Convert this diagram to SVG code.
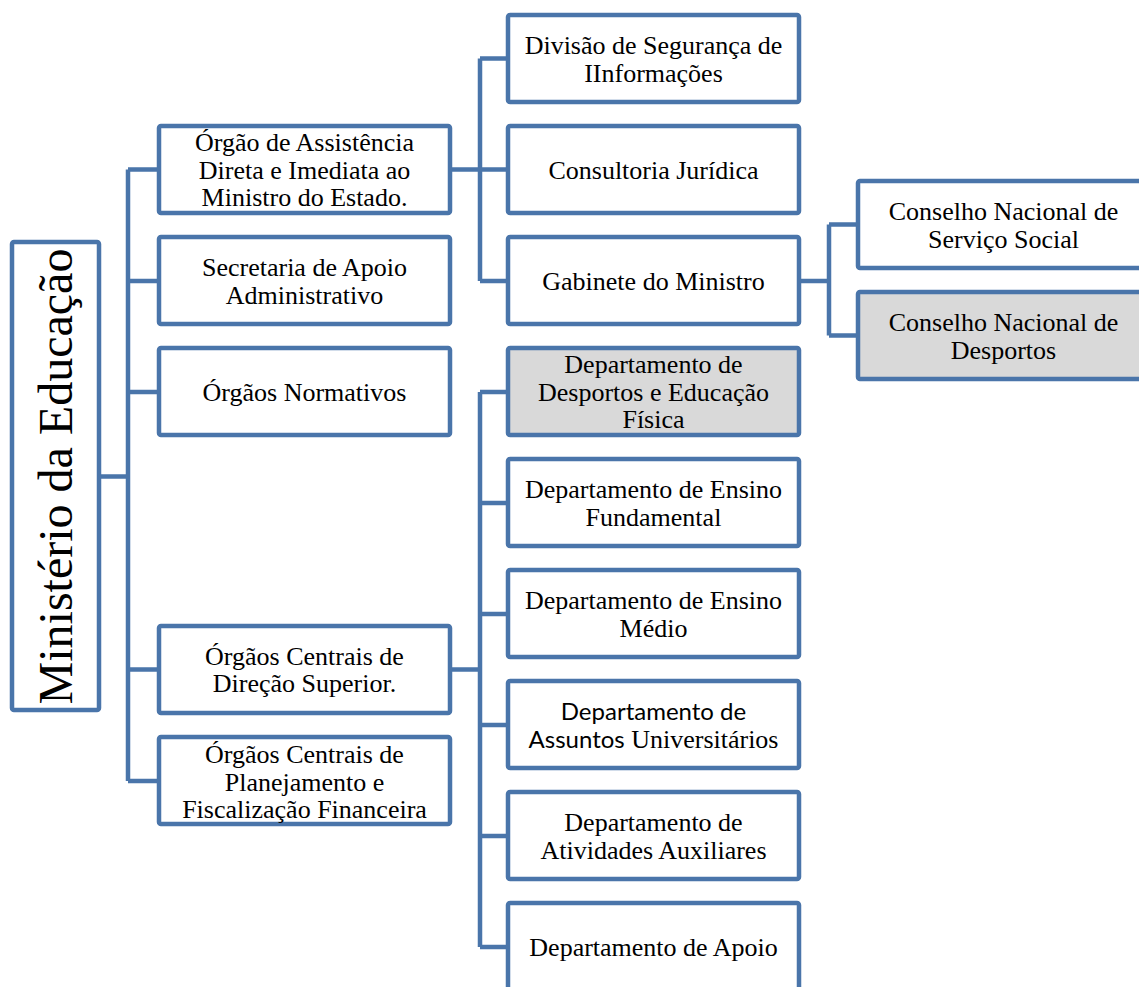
<svg xmlns="http://www.w3.org/2000/svg" width="1139" height="987" viewBox="0 0 1139 987">
<style>
.box{fill:#ffffff;stroke:#4a75aa;stroke-width:4.5;rx:2}
.grey{fill:#d9d9d9}
.conn{fill:none;stroke:#4a75aa;stroke-width:4.5;stroke-linejoin:round}
text{font-family:"Liberation Serif","Times New Roman",serif;font-size:26px;fill:#000;text-anchor:middle}
.sans{font-family:Lato,"Noto Sans",sans-serif;font-size:24px}
</style>
<g id="connectors">
<path class="conn" d="M100 476.5H128M128 169.5V781M128 169.5H159M128 281H159M128 392H159M128 669.5H159M128 781H159"/>
<path class="conn" d="M450 169.5H480M480 58.5V281M480 58.5H508M480 169.5H508M480 281H508"/>
<path class="conn" d="M800 281H829M829 224.5V335.5M829 224.5H858M829 335.5H858"/>
<path class="conn" d="M450 669.5H480M480 392V947M480 392H508M480 503H508M480 614H508M480 725H508M480 836H508M480 947H508"/>
</g>
<g id="n-ministerio">
<rect class="box" x="12" y="242" width="87" height="468"/>
<text transform="translate(72,476.5) rotate(-90)" style="font-size:48px">Ministério da Educação</text>
</g>
<g id="n-assistencia">
<rect class="box" x="159" y="126" width="291" height="87"/>
<text x="304.5" y="151">Órgão de Assistência</text>
<text x="304.5" y="178.5">Direta e Imediata ao</text>
<text x="304.5" y="206">Ministro do Estado.</text>
</g>
<g id="n-secretaria">
<rect class="box" x="159" y="237" width="291" height="87"/>
<text x="304.5" y="276">Secretaria de Apoio</text>
<text x="304.5" y="303.5">Administrativo</text>
</g>
<g id="n-normativos">
<rect class="box" x="159" y="348" width="291" height="87"/>
<text x="304.5" y="400.5">Órgãos Normativos</text>
</g>
<g id="n-direcao">
<rect class="box" x="159" y="626" width="291" height="87"/>
<text x="304.5" y="664.5">Órgãos Centrais de</text>
<text x="304.5" y="692">Direção Superior.</text>
</g>
<g id="n-planejamento">
<rect class="box" x="159" y="737" width="291" height="87"/>
<text x="304.5" y="763">Órgãos Centrais de</text>
<text x="304.5" y="790.5">Planejamento e</text>
<text x="304.5" y="818">Fiscalização Financeira</text>
</g>
<g id="n-divisao">
<rect class="box" x="508" y="15" width="291" height="87"/>
<text x="653.5" y="54">Divisão de Segurança de</text>
<text x="653.5" y="81.5">IInformações</text>
</g>
<g id="n-consultoria">
<rect class="box" x="508" y="126" width="291" height="87"/>
<text x="653.5" y="178.5">Consultoria Jurídica</text>
</g>
<g id="n-gabinete">
<rect class="box" x="508" y="237" width="291" height="87"/>
<text x="653.5" y="289.5">Gabinete do Ministro</text>
</g>
<g id="n-cnss">
<rect class="box" x="858" y="181" width="291" height="87"/>
<text x="1003.5" y="220">Conselho Nacional de</text>
<text x="1003.5" y="247.5">Serviço Social</text>
</g>
<g id="n-cnd">
<rect class="box grey" x="858" y="292" width="291" height="87"/>
<text x="1003.5" y="331">Conselho Nacional de</text>
<text x="1003.5" y="358.5">Desportos</text>
</g>
<g id="n-desportos">
<rect class="box grey" x="508" y="348" width="291" height="87"/>
<text x="653.5" y="373">Departamento de</text>
<text x="653.5" y="400.5">Desportos e Educação</text>
<text x="653.5" y="428">Física</text>
</g>
<g id="n-fundamental">
<rect class="box" x="508" y="459" width="291" height="87"/>
<text x="653.5" y="498">Departamento de Ensino</text>
<text x="653.5" y="525.5">Fundamental</text>
</g>
<g id="n-medio">
<rect class="box" x="508" y="570" width="291" height="87"/>
<text x="653.5" y="609">Departamento de Ensino</text>
<text x="653.5" y="636.5">Médio</text>
</g>
<g id="n-universitarios">
<rect class="box" x="508" y="681" width="291" height="87"/>
<text x="653.5" y="720" class="sans">Departamento de</text>
<text x="653.5" y="747.5"><tspan class="sans">Assuntos</tspan> Universitários</text>
</g>
<g id="n-auxiliares">
<rect class="box" x="508" y="792" width="291" height="87"/>
<text x="653.5" y="831">Departamento de</text>
<text x="653.5" y="858.5">Atividades Auxiliares</text>
</g>
<g id="n-apoio">
<rect class="box" x="508" y="903" width="291" height="87"/>
<text x="653.5" y="955.5">Departamento de Apoio</text>
</g>
</svg>
